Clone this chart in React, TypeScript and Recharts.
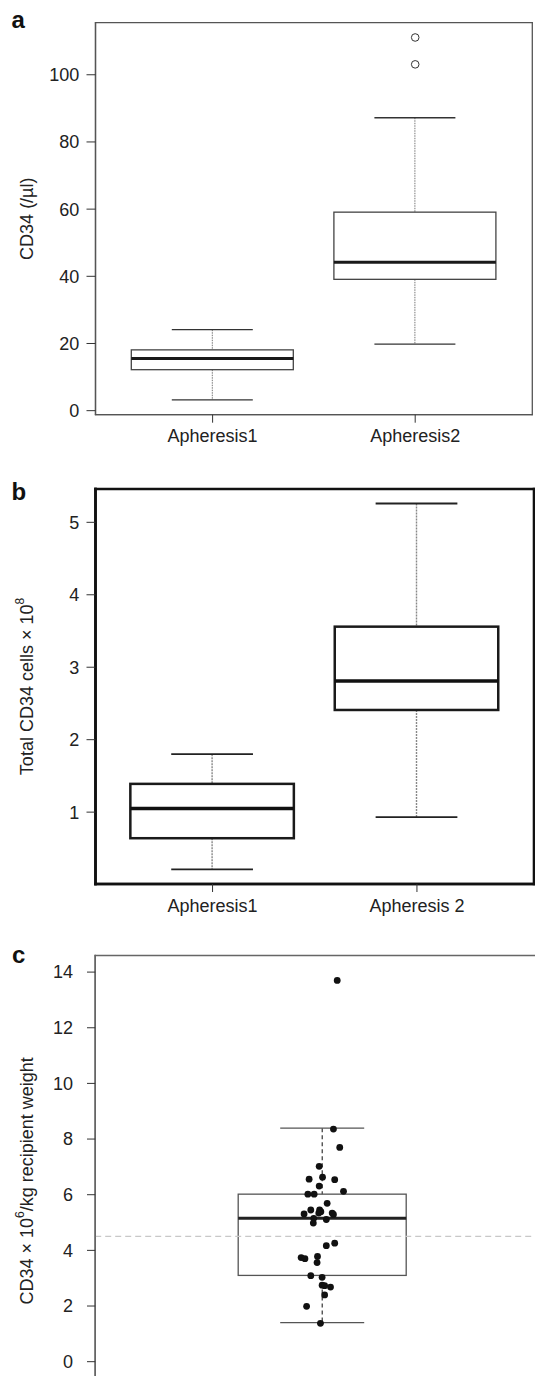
import React from "react";
import { ComposedChart, Bar, Scatter, XAxis, YAxis, ReferenceLine, CartesianGrid } from "recharts";

const FONT = '"Liberation Sans", Arial, Helvetica, sans-serif';

// a: CD34 per µl, two apheresis days
const groupsA = ["Apheresis1", "Apheresis2"];
const lowA = [3.2, 19.8];
const q1A = [12.2, 39.1];
const medA = [15.5, 44.2];
const q3A = [18.1, 59.1];
const highA = [24.1, 87.2];
const outGroupA = ["Apheresis2", "Apheresis2"];
const outA = [103.1, 111.1];
const ticksA = [0, 20, 40, 60, 80, 100];

// b: total CD34 cells x 10^8
const groupsB = ["Apheresis1", "Apheresis 2"];
const lowB = [0.21, 0.93];
const q1B = [0.64, 2.41];
const medB = [1.05, 2.81];
const q3B = [1.39, 3.56];
const highB = [1.8, 5.26];
const ticksB = [1, 2, 3, 4, 5];

// c: CD34 x 10^6 / kg recipient weight
const groupsC = ["All"];
const lowC = [1.4];
const q1C = [3.1];
const medC = [5.15];
const q3C = [6.02];
const highC = [8.39];
const refC = 4.5;
const ticksC = [0, 2, 4, 6, 8, 10, 12, 14];
const dotX = [
  1.037, 1.028, 1.043, 0.994, 0.97, 1.002, 1.031, 0.994, 1.052, 0.967, 0.982, 1.013,
  0.974, 0.995, 0.998, 0.958, 0.993, 1.025, 1.028, 0.981, 1.011, 0.98, 1.031, 1.011,
  0.951, 0.96, 0.99, 0.989, 0.974, 1.001, 1.001, 1.007, 1.021, 1.007, 0.964, 0.997,
];
const dotY = [
  13.7, 8.36, 7.7, 7.02, 6.56, 6.63, 6.54, 6.31, 6.12, 6.02, 6.02, 5.69,
  5.45, 5.45, 5.39, 5.31, 5.34, 5.34, 5.29, 5.15, 5.11, 4.98, 4.26, 4.17,
  3.74, 3.7, 3.78, 3.56, 3.09, 3.03, 2.75, 2.73, 2.68, 2.4, 1.99, 1.38,
];

const toRows = (g: string[], lo: number[], a: number[], m: number[], b: number[], hi: number[]) =>
  g.map((name, i) => ({ name, low: lo[i], q1: a[i], med: m[i], q3: b[i], high: hi[i] }));

const rowsA = toRows(groupsA, lowA, q1A, medA, q3A, highA);
const rowsB = toRows(groupsB, lowB, q1B, medB, q3B, highB);
const rowsC = toRows(groupsC, lowC, q1C, medC, q3C, highC);
const outliersA = outA.map((v, i) => ({ name: outGroupA[i], v }));
const dotsC = dotY.map((y, i) => ({ x: dotX[i], y }));

const range = (d: any) => [d.low, d.high];

type BoxStyle = {
  box: string; boxW: number; med: string; medW: number;
  whisk: string; whiskW: number; dash: string; cap: string; capW: number;
};

function BoxShape(props: any) {
  const { x, y, width, height, payload, s } = props;
  if (payload == null || !isFinite(y) || !isFinite(height)) return null;
  const top = Math.min(y, y + height);
  const bot = Math.max(y, y + height);
  const py = (v: number) => bot - ((v - payload.low) / (payload.high - payload.low)) * (bot - top);
  const cx = x + width / 2;
  const half = width / 4;
  const yq1 = py(payload.q1);
  const yq3 = py(payload.q3);
  const ym = py(payload.med);
  return (
    <g>
      <line x1={cx} x2={cx} y1={top} y2={yq3} stroke={s.whisk} strokeWidth={s.whiskW} strokeDasharray={s.dash} />
      <line x1={cx} x2={cx} y1={yq1} y2={bot} stroke={s.whisk} strokeWidth={s.whiskW} strokeDasharray={s.dash} />
      <line x1={cx - half} x2={cx + half} y1={top} y2={top} stroke={s.cap} strokeWidth={s.capW} />
      <line x1={cx - half} x2={cx + half} y1={bot} y2={bot} stroke={s.cap} strokeWidth={s.capW} />
      <rect x={x} y={yq3} width={width} height={yq1 - yq3} fill="none" stroke={s.box} strokeWidth={s.boxW} />
      <line x1={x} x2={x + width} y1={ym} y2={ym} stroke={s.med} strokeWidth={s.medW} />
    </g>
  );
}

const styleA: BoxStyle = { box: "#444", boxW: 1.3, med: "#1a1a1a", medW: 3, whisk: "#777", whiskW: 1, dash: "1.5 1", cap: "#333", capW: 1.3 };
const styleB: BoxStyle = { box: "#1a1a1a", boxW: 2.5, med: "#111", medW: 3.5, whisk: "#888", whiskW: 1.4, dash: "2 1", cap: "#222", capW: 1.8 };
const styleC: BoxStyle = { box: "#555", boxW: 1.3, med: "#222", medW: 3, whisk: "#222", whiskW: 1.1, dash: "4 3", cap: "#555", capW: 1.3 };

// frame = grid lines on the edges of the plot area
const frameH = ({ offset }: any) => [offset.top, offset.top + offset.height];
const frameV = ({ offset }: any) => [offset.left, offset.left + offset.width];

const yTitle = (content: React.ReactNode) => (p: any) => {
  const vb = p.viewBox || { x: 0, y: 0, width: 0, height: 0 };
  const cx = vb.x + 27.3;
  const cy = vb.y + vb.height / 2;
  return (
    <text x={cx} y={cy} transform={`rotate(-90 ${cx} ${cy})`} textAnchor="middle" dominantBaseline="central" fontSize={18} fill="#222">
      {content}
    </text>
  );
};

const tickFont = { fontSize: 18, fill: "#222" };

export default function App() {
  return (
    <div style={{ position: "relative", width: 535, height: 1376, overflow: "hidden", fontFamily: FONT, background: "#fff" }}>
      <style>{`body{margin:0;}`}</style>

      {/* a */}
      <div style={{ position: "absolute", left: 0, top: 0 }}>
        <ComposedChart width={535} height={465} data={rowsA} margin={{ top: 22.7, right: 2.7, bottom: 0, left: 0 }}>
          <CartesianGrid stroke="#555" strokeWidth={1.3} strokeLinecap="square" horizontalCoordinatesGenerator={frameH} verticalCoordinatesGenerator={frameV} />
          <XAxis dataKey="name" type="category" allowDuplicatedCategory={false} interval={0} padding={{ left: 15.8, right: 15.8 }} height={50.3} tickSize={8} tickMargin={7} tick={tickFont} tickLine={{ stroke: "#333" }} axisLine={{ stroke: "#555", strokeWidth: 1.3 }} />
          <YAxis type="number" domain={[-1.2, 115.5]} allowDataOverflow ticks={ticksA} interval={0} width={95.5} tickSize={9} tickMargin={7.3} tick={tickFont} tickLine={{ stroke: "#333" }} axisLine={{ stroke: "#555", strokeWidth: 1.3 }} label={{ content: yTitle("CD34 (/µl)") }} />
          <Bar dataKey={range} barSize={162} isAnimationActive={false} shape={(p: any) => <BoxShape {...p} s={styleA} />} />
          <Scatter data={outliersA} dataKey="v" isAnimationActive={false} shape={(p: any) => <circle cx={p.cx} cy={p.cy} r={3.8} fill="#fff" stroke="#333" strokeWidth={1} />} />
        </ComposedChart>
      </div>

      {/* b */}
      <div style={{ position: "absolute", left: 0, top: 470 }}>
        <ComposedChart width={535} height={450} data={rowsB} margin={{ top: 19, right: 1, bottom: 0, left: 0 }}>
          <CartesianGrid stroke="#111" strokeWidth={2.6} strokeLinecap="square" horizontalCoordinatesGenerator={frameH} verticalCoordinatesGenerator={frameV} />
          <XAxis dataKey="name" type="category" interval={0} padding={{ left: 14.85, right: 14.85 }} height={36} tickSize={8} tickMargin={7} tick={tickFont} tickLine={{ stroke: "#333" }} axisLine={{ stroke: "#111", strokeWidth: 2.6, strokeLinecap: "square" }} />
          <YAxis type="number" domain={[0.008, 5.46]} allowDataOverflow ticks={ticksB} interval={0} width={95.5} tickSize={9} tickMargin={7.3} tick={tickFont} tickLine={{ stroke: "#333" }} axisLine={{ stroke: "#111", strokeWidth: 2.6, strokeLinecap: "square" }} label={{ content: yTitle(<><tspan>Total CD34 cells × 10</tspan><tspan dy={-7} fontSize={12}>8</tspan></>) }} />
          <Bar dataKey={range} barSize={163.5} isAnimationActive={false} shape={(p: any) => <BoxShape {...p} s={styleB} />} />
        </ComposedChart>
      </div>

      {/* c */}
      <div style={{ position: "absolute", left: 0, top: 905 }}>
        <ComposedChart width={560} height={520} data={rowsC} margin={{ top: 50.4, right: 11.8, bottom: 18.8, left: 0 }}>
          <CartesianGrid stroke="#666" strokeWidth={1.5} strokeLinecap="square" horizontalCoordinatesGenerator={frameH} verticalCoordinatesGenerator={frameV} />
          <XAxis dataKey="name" type="category" hide />
          <XAxis xAxisId="j" type="number" dataKey="x" domain={[0.46, 1.54]} allowDataOverflow hide />
          <YAxis type="number" domain={[-1.6, 14.6]} allowDataOverflow ticks={ticksC} interval={0} width={95.2} tickSize={8.2} tickMargin={14} tick={tickFont} tickLine={{ stroke: "#333" }} axisLine={{ stroke: "#666", strokeWidth: 1.5 }} label={{ content: yTitle(<><tspan>CD34 × 10</tspan><tspan dy={-7} fontSize={12}>6</tspan><tspan dy={7}>/kg recipient weight</tspan></>) }} />
          <ReferenceLine y={refC} stroke="#c8c8c8" strokeWidth={1.2} strokeDasharray="6 4" />
          <Bar dataKey={range} barSize={168} isAnimationActive={false} shape={(p: any) => <BoxShape {...p} s={styleC} />} />
          <Scatter xAxisId="j" data={dotsC} dataKey="y" isAnimationActive={false} shape={(p: any) => <circle cx={p.cx} cy={p.cy} r={3.4} fill="#111" />} />
        </ComposedChart>
      </div>

      <svg width={535} height={1376} style={{ position: "absolute", left: 0, top: 0, pointerEvents: "none" }}>
        <g fontSize={24} fontWeight="bold" fill="#111">
          <text x={11.5} y={28.3}>a</text>
          <text x={11.5} y={500}>b</text>
          <text x={12} y={963.3}>c</text>
        </g>
      </svg>
    </div>
  );
}
